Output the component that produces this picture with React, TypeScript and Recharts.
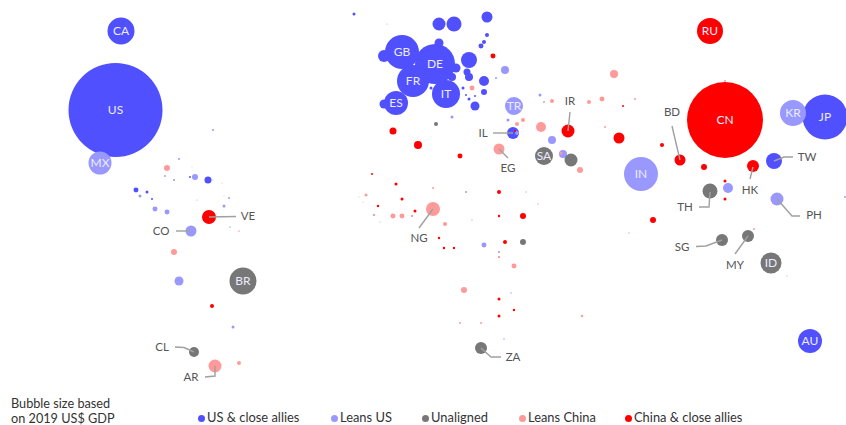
import React from 'react';
import { ScatterChart, Scatter, XAxis, YAxis, ZAxis, LabelList, Legend } from 'recharts';

type Row = [string, number, number, number];

// [code, map x, map y, 2019 GDP in US$ bn]
const usAllies: Row[] = [
  ['US', 115.5, 110, 21400], ['CA', 121, 31, 1766], ['GB', 402, 52, 2800], ['DE', 435, 64, 3876],
  ['FR', 413, 81, 2480], ['IT', 446, 94, 1900], ['ES', 396, 103, 1395], ['JP', 825, 117, 4906],
  ['AU', 810, 341, 1395], ['', 439, 24, 409], ['', 454, 24, 545], ['', 487, 17, 293],
  ['', 487, 35, 39], ['', 484, 42, 39], ['', 481, 46, 60], ['', 469, 60, 620],
  ['', 467, 72, 119], ['', 469, 77, 155], ['', 484, 81, 242], ['', 484, 92, 87],
  ['', 475, 106, 196], ['', 463, 88, 22], ['', 384, 56, 349], ['', 439, 43, 196],
  ['', 456, 68, 196], ['', 452, 77, 155], ['', 384, 104, 196], ['', 354, 14, 22],
  ['', 469, 99, 22], ['', 475, 96, 10], ['', 431, 88, 22], ['', 466, 95, 10],
  ['', 513, 133, 349], ['', 774, 161, 620], ['', 845, 197, 5], ['', 208, 180, 119],
  ['', 190, 177, 10], ['', 165, 176, 5], ['', 136, 190, 60], ['', 147, 192, 22],
  ['', 152, 199, 10], ['', 192, 167, 1],
];

const leansUs: Row[] = [
  ['MX', 100, 163, 1281], ['IN', 641, 174, 2800], ['KR', 793, 113, 1638], ['TR', 514, 106, 785],
  ['', 505, 70, 155], ['', 496, 78, 10], ['', 452, 117, 22], ['', 387, 24, 2.5],
  ['', 508, 120, 22], ['', 540, 95, 22], ['', 517, 133, 39], ['', 552, 140, 155],
  ['', 563, 154, 155], ['', 728, 188, 242], ['', 777, 199, 409], ['', 787, 276, 2.5],
  ['', 179, 159, 10], ['', 213, 130, 10], ['', 195, 177, 87], ['', 174, 180, 10],
  ['', 140, 196, 22], ['', 155, 209, 60], ['', 167, 212, 60], ['', 224, 206, 22],
  ['', 229, 198, 10], ['', 197, 200, 2.5], ['', 213, 180, 2.5], ['', 191, 231, 293],
  ['', 179, 281, 196], ['', 233, 327, 22], ['', 230, 227, 5], ['', 466, 192, 10],
  ['', 380, 222, 2.5], ['', 484, 245, 60], ['', 499, 252, 10], ['', 511, 293, 5],
  ['', 504, 339, 5], ['', 494, 350, 1],
];

const unaligned: Row[] = [
  ['BR', 243, 281, 1766], ['SA', 544, 156, 785], ['ID', 771, 263, 1068], ['', 436, 124, 39],
  ['', 571, 160, 409], ['', 710, 191, 545], ['', 722, 240, 349], ['', 748, 236, 349],
  ['', 194, 352, 242], ['', 523, 242, 87], ['', 481, 348, 349],
];

const leansChina: Row[] = [
  ['', 472, 88, 60], ['', 517, 124, 39], ['', 523, 120, 39], ['', 541, 127, 242],
  ['', 614, 74, 155], ['', 552, 101, 39], ['', 544, 102, 10], ['', 589, 102, 39],
  ['', 602, 99, 60], ['', 605, 127, 10], ['', 499, 149, 293], ['', 580, 170, 87],
  ['', 561, 153, 22], ['', 635, 99, 10], ['', 725, 81, 10], ['', 629, 233, 5],
  ['', 754, 229, 10], ['', 167, 168, 87], ['', 174, 252, 87], ['', 215, 366, 409],
  ['', 239, 363, 39], ['', 433, 209, 475], ['', 445, 224, 39], ['', 393, 216, 60],
  ['', 402, 216, 60], ['', 366, 195, 22], ['', 433, 188, 10], ['', 359, 197, 2.5],
  ['', 363, 202, 2.5], ['', 526, 192, 5], ['', 538, 204, 5], ['', 472, 220, 5],
  ['', 514, 266, 60], ['', 464, 290, 87], ['', 460, 323, 10], ['', 481, 323, 10],
  ['', 582, 316, 14], ['', 222, 183, 2.5], ['', 224, 196, 2.5],
];

const chinaAllies: Row[] = [
  ['RU', 710, 31, 1638], ['CN', 725, 120, 13990], ['', 493, 56, 60], ['', 393, 131, 119],
  ['', 568, 131, 409], ['', 619, 138, 293], ['', 662, 145, 39], ['', 623, 106, 10],
  ['', 515, 131, 10], ['', 753, 166, 349], ['', 680, 160, 293], ['', 704, 167, 87],
  ['', 725, 181, 22], ['', 725, 199, 22], ['', 653, 220, 87], ['', 209, 217, 475],
  ['', 212, 306, 39], ['', 239, 231, 2.5], ['', 418, 145, 155], ['', 460, 156, 60],
  ['', 372, 174, 10], ['', 396, 184, 22], ['', 402, 199, 22], ['', 378, 206, 14],
  ['', 415, 211, 22], ['', 412, 216, 5], ['', 374, 215, 5], ['', 499, 192, 39],
  ['', 499, 216, 14], ['', 523, 216, 87], ['', 505, 242, 39], ['', 439, 238, 14],
  ['', 444, 248, 14], ['', 454, 248, 14], ['', 499, 257, 5], ['', 499, 299, 22],
  ['', 514, 310, 14], ['', 499, 316, 22],
];

// names of the labelled bubbles that sit outside them
const outsideLabels: [string, number, number][] = [
  ['VE', 248, 216], ['CO', 161, 231], ['CL', 162, 347], ['AR', 191, 377], ['IL', 483, 133],
  ['IR', 570, 101], ['EG', 508, 168], ['NG', 419, 238], ['ZA', 513, 357], ['BD', 672, 112],
  ['TW', 807, 157], ['HK', 750, 190], ['PH', 814, 215], ['TH', 685, 207], ['SG', 682, 247],
  ['MY', 735, 265],
];

// leader lines from bubble to label
const leaders: [number, number][][] = [
  [[209, 217], [236, 216.5]],
  [[176, 231], [191, 231]],
  [[175, 347], [184, 347.5], [194, 352]],
  [[215, 366], [215, 376], [205, 377]],
  [[493, 133], [513, 133]],
  [[570, 112], [568, 131]],
  [[499, 149], [508, 158]],
  [[433, 209], [419, 228]],
  [[481, 348], [491, 357], [501, 357]],
  [[672, 126], [680, 160]],
  [[774, 161], [784, 157], [793, 157]],
  [[753, 167], [750, 179]],
  [[777, 199], [792, 216], [800, 216]],
  [[710, 192], [709, 207], [699, 207]],
  [[722, 240], [706, 246], [696, 246.5]],
  [[748, 236], [735, 254]],
];

const seriesNames = ['US & close allies', 'Leans US', 'Unaligned', 'Leans China', 'China & close allies'];
const seriesColors = ['#5050ff', '#9898ff', '#777777', '#ff9a9a', '#ff0000'];
const seriesRows = [usAllies, leansUs, unaligned, leansChina, chinaAllies];
const legendLeft = [198, 331, 422, 519, 625];

const FONT = 'Lato, sans-serif';

const toPoints = (rows: Row[]) => rows.map(([code, x, y, gdp]) => ({ code: code || undefined, x, y, gdp }));

function BubbleLegend({ payload }: any) {
  return (
    <div style={{ position: 'relative', height: 11, lineHeight: '11px', fontFamily: FONT, fontSize: 12.9, color: '#333' }}>
      {(payload || []).map((item: any, i: number) => (
        <span key={item.value} style={{ position: 'absolute', left: legendLeft[i], top: 0, whiteSpace: 'nowrap' }}>
          <span style={{
            display: 'inline-block', width: 7, height: 7, borderRadius: 4, marginRight: 2,
            verticalAlign: 0, background: item.color,
          }} />
          {item.value}
        </span>
      ))}
    </div>
  );
}

export default function App() {
  return (
    <div style={{ position: 'absolute', left: 0, top: 0, width: 846, height: 425, overflow: 'hidden' }}>
      <ScatterChart width={846} height={425} margin={{ top: 0, right: 0, bottom: 0, left: 0 }}>
        <XAxis type="number" dataKey="x" domain={[0, 846]} hide />
        <YAxis type="number" dataKey="y" domain={[0, 425]} reversed hide />
        <ZAxis type="number" dataKey="gdp" domain={[0, 21400]} range={[0, 6940]} />
        {seriesRows.map((rows, i) => (
          <Scatter
            key={seriesNames[i]}
            name={seriesNames[i]}
            data={toPoints(rows)}
            fill={seriesColors[i]}
            isAnimationActive={false}
          >
            <LabelList dataKey="code" position="center" fill="#ecebff" fontFamily={FONT} fontSize={12} />
          </Scatter>
        ))}
        {leaders.map((line, i) => (
          <Scatter
            key={`leader-${i}`}
            data={line.map(([x, y]) => ({ x, y }))}
            line={{ stroke: '#a0a0a0', strokeWidth: 1.4 }}
            shape={() => null}
            legendType="none"
            isAnimationActive={false}
          />
        ))}
        <Scatter
          data={outsideLabels.map(([code, x, y]) => ({ code, x, y }))}
          shape={() => null}
          legendType="none"
          isAnimationActive={false}
        >
          <LabelList dataKey="code" position="center" fill="#555555" fontFamily={FONT} fontSize={11.5} />
        </Scatter>
        <Legend
          layout="horizontal"
          verticalAlign="middle"
          itemSorter={null}
          content={<BubbleLegend />}
          wrapperStyle={{ top: 412, left: 0, width: 846 }}
        />
      </ScatterChart>
      <div style={{ position: 'absolute', left: 11, top: 396, fontFamily: FONT, fontSize: 12.7, lineHeight: '14.5px', color: '#333' }}>
        Bubble size based<br />on 2019 US$ GDP
      </div>
    </div>
  );
}
